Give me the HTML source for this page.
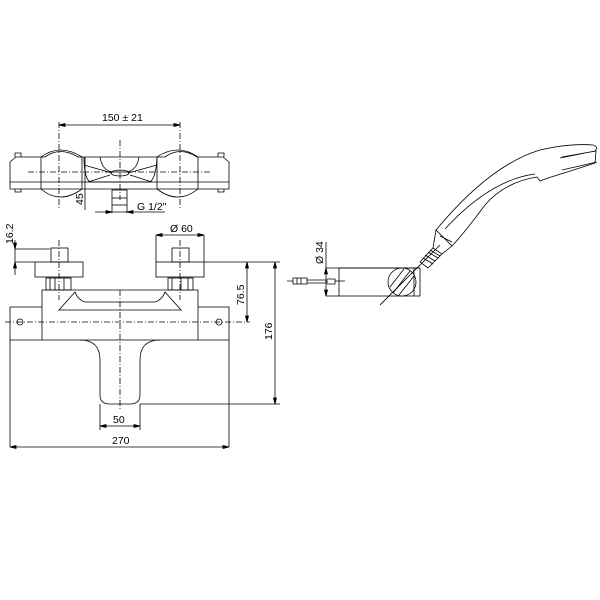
<!DOCTYPE html><html><head><style>body{margin:0;background:#fff}svg{display:block}text{font-family:"Liberation Sans",sans-serif;font-size:10.5px;fill:#000}</style></head><body>
<svg width="600" height="600" viewBox="0 0 600 600" fill="none" stroke="#000" stroke-width="0.8">
<!-- TOP VIEW -->
<line x1="59" y1="125" x2="180" y2="125"/><path d="M59 125l6-1.5v3z M180 125l-6-1.5v3z" fill="#000"/>
<line x1="59" y1="122" x2="59" y2="210" stroke-dasharray="6 2 1 2"/><line x1="180" y1="122" x2="180" y2="210" stroke-dasharray="6 2 1 2"/>
<text x="102" y="121" stroke="none">150 ±  21</text>
<path d="M10 162 L16 157 L45 157 Q60 146 78 157 L165 157 Q180 146 197 157 L223 157 L229 162 L229 189 L10 189 Z"/>
<line x1="10" y1="182" x2="229" y2="182"/>
<path d="M15 157v-4h6v4 M218 157v-4h6v4 M15 189v3h6v-3 M218 189v3h6v-3"/>
<path d="M41 157 L41 189 Q60 205 82 189 L82 157"/><path d="M157 157 L157 189 Q178 205 198 189 L198 157"/>
<path d="M41 157 Q60 143 82 157 M157 157 Q178 143 198 157"/>
<path d="M84 157 Q84 178 90 182 L150 182 Q156 178 157 157"/>
<path d="M100 157 Q102 170 112 172 L127 172 Q137 170 139 157"/>
<ellipse cx="120" cy="173" rx="9" ry="3"/>
<path d="M84 165 L112 173 M157 165 L128 173 M88 182 L110 175 M152 182 L130 175"/>
<line x1="28" y1="172" x2="212" y2="172" stroke-dasharray="6 2 1 2"/>
<line x1="120" y1="140" x2="120" y2="200" stroke-dasharray="6 2 1 2"/>
<rect x="112" y="190" width="15" height="15"/><line x1="112" y1="198" x2="127" y2="198"/>
<line x1="85" y1="157" x2="85" y2="210"/><text transform="translate(83,205) rotate(-90)" stroke="none">45</text>
<line x1="95" y1="212" x2="165" y2="212"/><line x1="112" y1="205" x2="112" y2="213"/><line x1="127" y1="205" x2="127" y2="213"/>
<path d="M112 212l-6-1.5v3z M127 212l6-1.5v3z" fill="#000"/>
<text x="137" y="210" stroke="none">G  1/2"</text>
<!-- FRONT VIEW -->
<line x1="15" y1="240" x2="15" y2="275"/><line x1="15" y1="249" x2="50" y2="249"/><line x1="15" y1="262" x2="35" y2="262"/>
<path d="M15 249l-1.5-6h3z M15 262l-1.5 6h3z" fill="#000"/>
<text transform="translate(13,244) rotate(-90)" stroke="none">16.2</text>
<line x1="156" y1="235" x2="204" y2="235"/><line x1="156" y1="235" x2="156" y2="262"/><line x1="204" y1="235" x2="204" y2="262"/>
<path d="M156 235l6-1.5v3z M204 235l-6-1.5v3z" fill="#000"/><text x="170" y="232" stroke="none">Ø 60</text>
<rect x="51" y="248" width="17" height="14"/><rect x="35" y="262" width="48" height="15"/>
<rect x="172" y="248" width="17" height="14"/><rect x="156" y="262" width="48" height="15"/>
<rect x="46" y="278" width="25" height="12"/><rect x="168" y="278" width="25" height="12"/>
<path d="M50 278v12 M55 278v12 M64 278v12 M172 278v12 M181 278v12 M188 278v12"/>
<line x1="59" y1="240" x2="59" y2="300" stroke-dasharray="6 2 1 2"/><line x1="180" y1="240" x2="180" y2="300" stroke-dasharray="6 2 1 2"/>
<path d="M42 290 L198 290 L198 307 L229 307 L229 340 L10 340 L10 307 L42 307 Z"/>
<line x1="42" y1="307" x2="42" y2="340"/><line x1="198" y1="307" x2="198" y2="340"/>
<path d="M59 310 L75 292 Q78 300 85 302 L155 302 Q162 300 165 292 L181 310 Z"/>
<path d="M10 447 L10 340 M229 447 L229 340"/>
<path d="M80 340 Q100 340 100 360 L100 395 Q100 404 110 404 L130 404 Q140 404 140 395 L140 360 Q140 340 160 340"/>
<circle cx="20" cy="322" r="3"/><circle cx="219" cy="322" r="3"/>
<line x1="5" y1="322" x2="250" y2="322" stroke-dasharray="6 2 1 2"/>
<line x1="120" y1="290" x2="120" y2="410" stroke-dasharray="6 2 1 2"/>
<line x1="100" y1="404" x2="100" y2="430"/><line x1="140" y1="404" x2="140" y2="430"/>
<line x1="100" y1="426" x2="140" y2="426"/><path d="M100 426l6-1.5v3z M140 426l-6-1.5v3z" fill="#000"/>
<text x="113" y="423" stroke="none">50</text>
<line x1="10" y1="447" x2="229" y2="447"/><path d="M10 447l6-1.5v3z M229 447l-6-1.5v3z" fill="#000"/>
<text x="112" y="444" stroke="none">270</text>
<line x1="204" y1="262" x2="280" y2="262"/><line x1="140" y1="404" x2="280" y2="404"/>
<line x1="247" y1="262" x2="247" y2="322"/><path d="M247 262l-1.5 6h3z M247 322l-1.5-6h3z" fill="#000"/>
<text transform="translate(244,305) rotate(-90)" stroke="none">76.5</text>
<line x1="275" y1="262" x2="275" y2="404"/><path d="M275 262l-1.5 6h3z M275 404l-1.5-6h3z" fill="#000"/>
<text transform="translate(272,340) rotate(-90)" stroke="none">176</text>
<!-- BRACKET -->
<line x1="326" y1="242" x2="326" y2="296"/><line x1="326" y1="268" x2="420" y2="268"/><line x1="326" y1="296" x2="339" y2="296"/>
<path d="M326 268l-1.5 6h3z M326 296l-1.5-6h3z" fill="#000"/>
<text transform="translate(323,264) rotate(-90)" stroke="none">Ø 34</text>
<rect x="339" y="268" width="81" height="28"/><line x1="414" y1="268" x2="414" y2="296"/>
<circle cx="402" cy="282" r="14"/><path d="M393 293 L410 271 M399 295 L414 276 M390 287 L404 269"/>
<line x1="380" y1="305" x2="440" y2="245"/>
<path d="M287 281 h6 M293 278h14v6h-14z M297 278v6 M301 278v6 M307 280h20v3h-20 M327 279h8v5h-8 M335 281h10"/>
<!-- HAND SHOWER -->
<path d="M420 262 L433 248 L442 254 L428 268 Z"/>
<path d="M423 258l10 6 M425 255l10 6 M428 252l10 6 M430 250l10 6"/>
<path d="M433 248 L436 230 L452 246 L442 254"/>
<path d="M436 230 Q490 165 540 150 Q570 143 593 145 Q599 147 595 151 L560 158 M562 157 L596 151 L595 163 Q580 168 548 178 L540 181 L537 177 Q505 182 485 205 Q465 232 452 246"/>
<path d="M440 236 L452 242 M445 229 Q490 180 535 174"/>
<path d="M562 170 L597 162"/>
</svg></body></html>
